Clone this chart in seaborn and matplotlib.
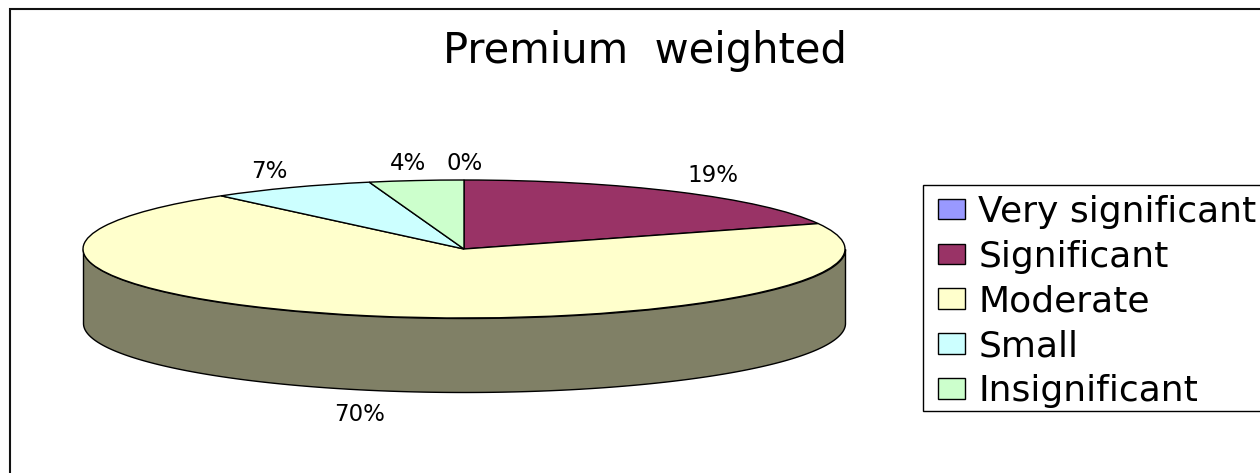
import numpy as np
import matplotlib
matplotlib.use("Agg")
import matplotlib.pyplot as plt
from matplotlib.patches import Rectangle
import seaborn as sns

categories = ["Very significant", "Significant", "Moderate", "Small", "Insignificant"]
shares = [0, 19, 70, 7, 4]
slice_colors = ["#9999FF", "#993366", "#FFFFCC", "#CCFFFF", "#CCFFCC"]
chart_title = "Premium  weighted"

W, H = 1260, 473
CX, CY = 464, 249      # centre of the disc, in pixels
RX, RY = 381, 69       # disc radii, in pixels
DEPTH = 74             # height of the cylinder wall, in pixels

sns.set_theme(style="white")
plt.rcParams["font.family"] = ["DejaVu Sans"]
palette = sns.color_palette(slice_colors)

fig = plt.figure(figsize=(W / 100, H / 100), dpi=100, facecolor="white")
ax = fig.add_axes([0, 0, 1, 1])

wedges, _ = ax.pie(shares, colors=palette, startangle=90, counterclock=False,
                   radius=1, wedgeprops=dict(edgecolor="black", linewidth=1.0))

# One data unit is one radius on each axis, so the circle is flattened into an ellipse.
ax.set_aspect("auto")
ax.set_xlim(-CX / RX, (W - CX) / RX)
ax.set_ylim((CY - H) / RY, CY / RY)

# Cylinder wall: only the part of each slice on the near half of the rim is visible.
edges = np.cumsum([0] + shares) / sum(shares) * 360
for start, stop, color in zip(edges[:-1], edges[1:], palette):
    lo, hi = max(start, 90), min(stop, 270)
    if hi <= lo:
        continue
    theta = np.radians(np.linspace(lo, hi, 300))
    x, top = np.sin(theta), np.cos(theta)
    ax.fill_between(x, top, top - DEPTH / RY, facecolor=np.array(color) * 0.5,
                    edgecolor="black", linewidth=1.0, zorder=0.5)

# Percentage labels around the pie
label_px = [(465, 163), (713, 175), (360, 414), (269, 172), (408, 163)]
for share, (px, py) in zip(shares, label_px):
    fig.text(px / W, 1 - py / H, f"{share}%", fontsize=16.5, ha="center", va="center",
             color="black")

fig.text(645 / W, 1 - 51 / H, chart_title, fontsize=30, ha="center", va="center",
         color="black")

# Outer chart frame, running off the right and bottom edges
fig.add_artist(Rectangle((9.5 / W, -0.02), 1.1, 1 - 9.5 / H + 0.02,
                         transform=fig.transFigure, fill=False,
                         edgecolor="#111111", linewidth=1.5))

# Legend box also runs off the right edge
fig.add_artist(Rectangle((923.5 / W, 1 - 411 / H), 0.4, 226 / H,
                         transform=fig.transFigure, facecolor="white",
                         edgecolor="black", linewidth=1.0))
legend = fig.legend(wedges, categories, loc="upper left",
                    bbox_to_anchor=(938 / W, 1 - 195 / H), borderaxespad=0,
                    fontsize=26, frameon=False, borderpad=0, labelspacing=0.298,
                    handlelength=0.75, handleheight=0.5, handletextpad=0.37,
                    labelcolor="black")

fig.savefig("out.png", dpi=100)
